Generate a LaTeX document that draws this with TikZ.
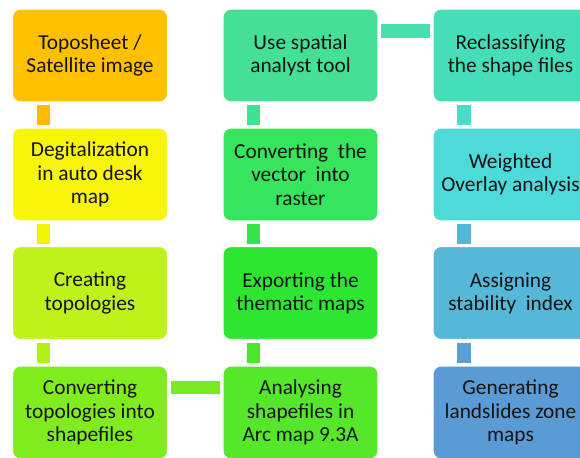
\documentclass[tikz,border=0pt]{standalone}
\usepackage{fontspec}
\setmainfont{Carlito}
\usetikzlibrary{calc}

% box fills
\definecolor{cA}{HTML}{FFC000}
\definecolor{cB}{HTML}{F6F50A}
\definecolor{cC}{HTML}{BEF21A}
\definecolor{cD}{HTML}{80EC1E}
\definecolor{cE}{HTML}{55E82A}
\definecolor{cF}{HTML}{2EE632}
\definecolor{cG}{HTML}{37E55C}
\definecolor{cH}{HTML}{45E096}
\definecolor{cI}{HTML}{46DEB8}
\definecolor{cJ}{HTML}{4DDAD9}
\definecolor{cK}{HTML}{55B8D9}
\definecolor{cL}{HTML}{5B9BD5}
% connector fills
\definecolor{kA}{HTML}{FDBA00}
\definecolor{kB}{HTML}{F0F400}
\definecolor{kC}{HTML}{B2F016}
\definecolor{kD}{HTML}{78EA20}
\definecolor{kE}{HTML}{48E72C}
\definecolor{kF}{HTML}{33E548}
\definecolor{kG}{HTML}{40E290}
\definecolor{kH}{HTML}{46DFAE}
\definecolor{kI}{HTML}{4ADBCB}
\definecolor{kJ}{HTML}{52B8D9}
\definecolor{kK}{HTML}{5A9ED6}

\begin{document}
\begin{tikzpicture}[x=0.75pt,y=-0.75pt,
  stepbox/.style={draw=white, line width=0.8pt, rounded corners=6pt,
    minimum width=116.25pt, minimum height=69.75pt, inner sep=1pt,
    align=center, text=black!92, font=\fontsize{16}{17.4}\selectfont},
  bar/.style={draw=white, line width=0.4pt}]
\useasboundingbox (0,0) rectangle (580,457);
\begin{scope}
\clip (0,0) rectangle (580,457);

% first column
\node[stepbox, fill=cA] (b1) at (90,55.5)   {Toposheet /\\Satellite image};
\node[stepbox, fill=cB] (b2) at (90,174.5)  {Degitalization\\in auto desk\\map};
\node[stepbox, fill=cC] (b3) at (90,293)    {Creating\\topologies};
\node[stepbox, fill=cD] (b4) at (90,412.5)  {Converting\\topologies into\\shapefiles};
% second column
\node[stepbox, fill=cE] (b5) at (300.5,412.5) {Analysing\\shapefiles in\\Arc map 9.3A};
\node[stepbox, fill=cF] (b6) at (300.5,293)   {Exporting the\\thematic maps};
\node[stepbox, fill=cG] (b7) at (300.5,174.5) {Converting~ the\\vector~ into\\raster};
\node[stepbox, fill=cH] (b8) at (300.5,55.5)  {Use spatial\\analyst tool};
% third column
\node[stepbox, fill=cI] (b9)  at (510.5,55.5)  {Reclassifying\\the shape files};
\node[stepbox, fill=cJ] (b10) at (510.5,174.5) {Weighted\\Overlay analysis};
\node[stepbox, fill=cK] (b11) at (510.5,293)   {Assigning\\stability~ index};
\node[stepbox, fill=cL] (b12) at (510.5,412.5) {Generating\\landslides zone\\maps};

% connectors going down the first column
\draw[bar, fill=kA] ($(b1.south west)+(24,2)$) rectangle ($(b2.north west)+(38.5,-2)$);
\draw[bar, fill=kB] ($(b2.south west)+(24,2)$) rectangle ($(b3.north west)+(38.5,-2)$);
\draw[bar, fill=kC] ($(b3.south west)+(24,2)$) rectangle ($(b4.north west)+(38.5,-2)$);
% across to the second column
\draw[bar, fill=kD] ($(b4.north east)+(2,15)$) rectangle ($(b5.north west)+(-2,29)$);
% up the second column
\draw[bar, fill=kE] ($(b5.north west)+(23.5,-2)$) rectangle ($(b6.south west)+(38,2)$);
\draw[bar, fill=kF] ($(b6.north west)+(23.5,-2)$) rectangle ($(b7.south west)+(38,2)$);
\draw[bar, fill=kG] ($(b7.north west)+(23.5,-2)$) rectangle ($(b8.south west)+(38,2)$);
% across to the third column
\draw[bar, fill=kH] ($(b8.north east)+(2,15)$) rectangle ($(b9.north west)+(-2,30)$);
% down the third column
\draw[bar, fill=kI] ($(b9.south west)+(24,2)$)  rectangle ($(b10.north west)+(39,-2)$);
\draw[bar, fill=kJ] ($(b10.south west)+(24,2)$) rectangle ($(b11.north west)+(39,-2)$);
\draw[bar, fill=kK] ($(b11.south west)+(24,2)$) rectangle ($(b12.north west)+(39,-2)$);
\end{scope}
\end{tikzpicture}
\end{document}
